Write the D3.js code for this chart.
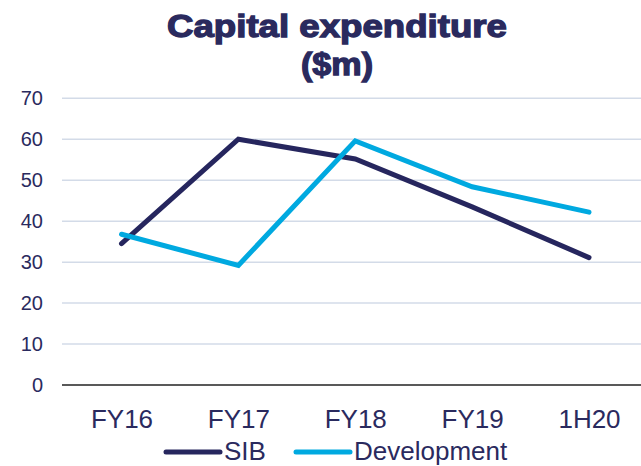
<!DOCTYPE html>
<html>
<head>
<meta charset="utf-8">
<script src="https://cdn.jsdelivr.net/npm/d3@7"></script>
<style>
  body { margin: 0; background: #fff; }
  svg { display: block; font-family: "Liberation Sans", Arial, sans-serif; }
</style>
</head>
<body>
<div id="chart"></div>
<script>
// data
var categories = ['FY16', 'FY17', 'FY18', 'FY19', '1H20'];
var sib = [34.5, 60.0, 55.2, 43.5, 31.1];
var development = [36.8, 29.2, 59.6, 48.4, 42.2];
var yTicks = [0, 10, 20, 30, 40, 50, 60, 70];
var seriesNames = ['SIB', 'Development'];
var seriesColors = ['#26265e', '#00a9e0'];

var width = 641, height = 466;
var textColor = '#2a2a5e';

var svg = d3.select('#chart').append('svg')
  .attr('width', width)
  .attr('height', height);

var x = d3.scalePoint()
  .domain(categories)
  .range([121.5, 589])

var y = d3.scaleLinear()
  .domain([0, 70])
  .range([385, 98.3]);

// title (heavy face, stroked a little to get the black weight)
svg.append('text')
  .attr('x', 337).attr('y', 37)
  .attr('text-anchor', 'middle')
  .attr('font-size', 32).attr('font-weight', 'bold')
  .attr('fill', textColor)
  .attr('stroke', textColor).attr('stroke-width', 1.3)
  .attr('textLength', 340).attr('lengthAdjust', 'spacingAndGlyphs')
  .text('Capital expenditure');
svg.append('text')
  .attr('x', 337).attr('y', 75)
  .attr('text-anchor', 'middle')
  .attr('font-size', 32).attr('font-weight', 'bold')
  .attr('fill', textColor)
  .attr('stroke', textColor).attr('stroke-width', 1.3)
  .attr('textLength', 72).attr('lengthAdjust', 'spacingAndGlyphs')
  .text('($m)');

// gridlines
svg.append('g')
  .selectAll('line')
  .data(yTicks.filter(function(d) { return d > 0; }))
  .enter().append('line')
    .attr('x1', 62).attr('x2', width)
    .attr('y1', function(d) { return y(d); })
    .attr('y2', function(d) { return y(d); })
    .attr('stroke', '#d3dbe8')
    .attr('stroke-width', 1.5);

// y axis labels
var yAxis = svg.append('g')
  .attr('transform', 'translate(43,0)')
  .call(d3.axisLeft(y).tickValues(yTicks).tickSize(0).tickPadding(0));
yAxis.select('.domain').remove();
yAxis.selectAll('text')
  .attr('font-size', 20)
  .attr('font-family', '"Liberation Sans", Arial, sans-serif')
  .attr('fill', textColor);

// x axis
svg.append('line')
  .attr('x1', 62).attr('x2', width)
  .attr('y1', y(0)).attr('y2', y(0))
  .attr('stroke', '#595959')
  .attr('stroke-width', 2);

var xAxis = svg.append('g')
  .attr('transform', 'translate(0,' + y(0) + ')')
  .call(d3.axisBottom(x).tickSize(0).tickPadding(0));
xAxis.select('.domain').remove();
xAxis.selectAll('text')
  .attr('dy', null)
  .attr('y', 43)
  .attr('font-size', 26)
  .attr('font-family', '"Liberation Sans", Arial, sans-serif')
  .attr('fill', textColor);

// lines
var line = d3.line()
  .x(function(d, i) { return x(categories[i]); })
  .y(function(d) { return y(d); });

[sib, development].forEach(function(values, i) {
  svg.append('path')
    .datum(values)
    .attr('d', line)
    .attr('fill', 'none')
    .attr('stroke', seriesColors[i])
    .attr('stroke-width', 5)
    .attr('stroke-linecap', 'round');
});

// legend
var legendX = [165, 295];
var legend = svg.append('g');
seriesNames.forEach(function(name, i) {
  legend.append('line')
    .attr('x1', legendX[i] + 1).attr('x2', legendX[i] + 55)
    .attr('y1', 452).attr('y2', 452)
    .attr('stroke', seriesColors[i])
    .attr('stroke-width', 5)
    .attr('stroke-linecap', 'round');
  legend.append('text')
    .attr('x', legendX[i] + 59).attr('y', 460)
    .attr('font-size', 26)
    .attr('fill', textColor)
    .text(name);
});
</script>
</body>
</html>
